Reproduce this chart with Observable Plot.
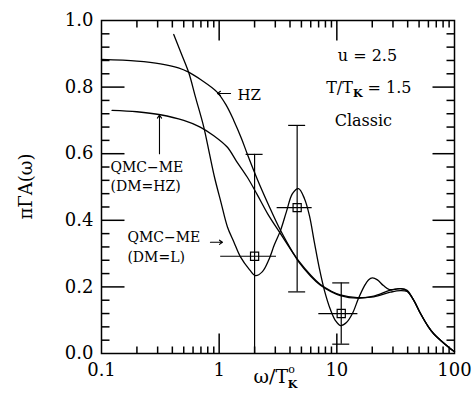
<!DOCTYPE html>
<html>
<head>
<meta charset="utf-8">
<script src="https://cdn.jsdelivr.net/npm/d3@7"></script>
<script src="https://cdn.jsdelivr.net/npm/@observablehq/plot@0.6"></script>
<style>
  html, body { margin: 0; padding: 0; background: #fff; }
</style>
</head>
<body>
<div id="chart"></div>
<script>
// ---- data ----
const hzX = [0.1, 0.2, 0.317, 0.45, 0.55, 0.7, 0.96, 1.15, 1.33, 1.55, 1.73, 2.1, 2.6, 3.32, 4.28, 4.74, 6, 7.26, 9, 10.7, 14.9, 20.6, 28.5, 34.7, 39.5, 45, 51.4, 60, 66.5, 76, 92, 100];
const hzY = [0.883, 0.878, 0.870, 0.858, 0.845, 0.822, 0.785, 0.745, 0.70, 0.645, 0.60, 0.525, 0.45, 0.37, 0.30, 0.275, 0.232, 0.205, 0.185, 0.174, 0.166, 0.172, 0.19, 0.195, 0.188, 0.16, 0.12, 0.08, 0.059, 0.04, 0.015, 0.005];

const dmhzX = [0.123, 0.2, 0.317, 0.5, 0.69, 0.9, 1.17, 1.4, 1.73, 2.1, 2.6, 3.32, 4.28, 4.74, 6, 7.26, 9, 10.7, 14.9, 20.6, 28.5, 34.7, 39.5, 45, 51.4, 60, 66.5, 76, 92, 100];
const dmhzY = [0.730, 0.726, 0.717, 0.70, 0.68, 0.654, 0.62, 0.578, 0.53, 0.478, 0.418, 0.36, 0.30, 0.278, 0.235, 0.207, 0.187, 0.176, 0.168, 0.170, 0.184, 0.189, 0.186, 0.16, 0.12, 0.08, 0.06, 0.04, 0.015, 0.005];

const dmlX = [0.411, 0.48, 0.552, 0.629, 0.740, 0.827, 0.912, 1.036, 1.176, 1.336, 1.517, 1.809, 2.03, 2.333, 2.624, 2.95, 3.318, 3.731, 4.196, 4.72, 5.31, 5.85, 6.45, 7.11, 7.85, 8.82, 9.73, 10.73, 12.07, 13.57, 15.26, 17.16, 18.56, 20.07, 22.13, 24.89, 27.99, 31.5, 35, 39.5, 45, 51.4, 60, 66.5, 76, 92, 100];
const dmlY = [0.958, 0.898, 0.843, 0.77, 0.68, 0.60, 0.53, 0.454, 0.38, 0.334, 0.29, 0.252, 0.234, 0.246, 0.279, 0.327, 0.369, 0.426, 0.48, 0.495, 0.465, 0.414, 0.333, 0.255, 0.189, 0.132, 0.099, 0.084, 0.093, 0.12, 0.165, 0.203, 0.221, 0.227, 0.221, 0.204, 0.192, 0.193, 0.195, 0.19, 0.16, 0.12, 0.08, 0.059, 0.04, 0.015, 0.005];

// QMC points with error bars
const errX = [2.0, 4.6, 10.9];
const errY = [0.292, 0.438, 0.12];
const errYLow = [0, 0.185, 0.028];
const errYHigh = [0.598, 0.685, 0.212];
const errXLow = [1.03, 3.11, 7.03];
const errXHigh = [3.07, 6.17, 15.1];

// tick values
const xLabelTicks = [0.1, 1, 10, 100];
const xMajorTicks = [1, 10];
const xMinorTicks = [0.2, 0.3, 0.4, 0.5, 0.6, 0.7, 0.8, 0.9, 2, 3, 4, 5, 6, 7, 8, 9, 20, 30, 40, 50, 60, 70, 80, 90];
const yLabelTicks = [0, 0.2, 0.4, 0.6, 0.8, 1.0];
const yMajorTicks = [0.2, 0.4, 0.6, 0.8];
const yMinorTicks = [0.04, 0.08, 0.12, 0.16, 0.24, 0.28, 0.32, 0.36, 0.44, 0.48, 0.52, 0.56, 0.64, 0.68, 0.72, 0.76, 0.84, 0.88, 0.92, 0.96];

// ---- build tables ----
const hz = hzX.map((x, i) => ({x, y: hzY[i]}));
const dmhz = dmhzX.map((x, i) => ({x, y: dmhzY[i]}));
const dml = dmlX.map((x, i) => ({x, y: dmlY[i]}));
const errs = errX.map((x, i) => ({x, y: errY[i], yLo: errYLow[i], yHi: errYHigh[i], xLo: errXLow[i], xHi: errXHigh[i]}));

const W = 474, H = 416;
const mL = 101, mR = 20, mT = 20, mB = 63;
const pw = W - mL - mR, ph = H - mT - mB;
const xDom = [0.1, 100], yDom = [0, 1];
const decades = Math.log10(xDom[1] / xDom[0]);
const yLen = px => px / ph * (yDom[1] - yDom[0]);
const xFac = px => Math.pow(10, px / pw * decades);
const capF = xFac(8.5);

// inward tick segments on all four sides (tick value -> segment in scale units)
const xTickSegs = [
  ...xMinorTicks.flatMap(v => [{x1: v, x2: v, y1: yDom[0], y2: yDom[0] + yLen(7)}, {x1: v, x2: v, y1: yDom[1] - yLen(7), y2: yDom[1]}]),
  ...xMajorTicks.flatMap(v => [{x1: v, x2: v, y1: yDom[0], y2: yDom[0] + yLen(20)}, {x1: v, x2: v, y1: yDom[1] - yLen(20), y2: yDom[1]}])
];
const yTickSegs = [
  ...yMinorTicks.flatMap(v => [{y1: v, y2: v, x1: xDom[0], x2: xDom[0] * xFac(8)}, {y1: v, y2: v, x1: xDom[1] / xFac(8), x2: xDom[1]}]),
  ...yMajorTicks.flatMap(v => [{y1: v, y2: v, x1: xDom[0], x2: xDom[0] * xFac(23)}, {y1: v, y2: v, x1: xDom[1] / xFac(22), x2: xDom[1]}])
];
const tickSegs = [...xTickSegs, ...yTickSegs];

const font = "'DejaVu Serif', serif";
const lineOpts = {stroke: "black", strokeWidth: 1.3, curve: "catmull-rom"};

const svg = Plot.plot({
  width: W, height: H,
  marginLeft: mL, marginRight: mR, marginTop: mT, marginBottom: mB,
  style: {fontFamily: font, background: "white", color: "black"},
  x: {type: "log", domain: xDom},
  y: {domain: yDom},
  marks: [
    Plot.frame({stroke: "black", fill: "none", strokeWidth: 1.5}),
    Plot.axisX(xLabelTicks, {anchor: "bottom", tickSize: 0, tickPadding: 10, fontSize: 18, tickFormat: d => String(d), label: null}),
    Plot.axisY(yLabelTicks, {anchor: "left", tickSize: 0, tickPadding: 8, fontSize: 18, tickFormat: d => d.toFixed(1), label: null}),
    // curves
    Plot.line(hz, {x: "x", y: "y", ...lineOpts}),
    Plot.line(dmhz, {x: "x", y: "y", ...lineOpts}),
    Plot.line(dml, {x: "x", y: "y", ...lineOpts}),
    // error bars
    Plot.ruleX(errs, {x: "x", y1: "yLo", y2: "yHi", strokeWidth: 1.2}),
    Plot.ruleY(errs, {y: "y", x1: "xLo", x2: "xHi", strokeWidth: 1.2}),
    Plot.ruleY(errs, {y: "yHi", x1: d => d.x / capF, x2: d => d.x * capF, strokeWidth: 1.2}),
    Plot.ruleY(errs.filter(d => d.yLo > 0), {y: "yLo", x1: d => d.x / capF, x2: d => d.x * capF, strokeWidth: 1.2}),
    Plot.dot(errs, {x: "x", y: "y", symbol: "square", r: 4.6, stroke: "black", fill: "none", strokeWidth: 1.2}),
    // inward ticks
    Plot.link(tickSegs, {x1: "x1", y1: "y1", x2: "x2", y2: "y2", stroke: "black", strokeWidth: 1.5}),
    // arrows
    Plot.arrow([{x1: 1.25, y1: 0.781, x2: 0.967, y2: 0.781}], {x1: "x1", y1: "y1", x2: "x2", y2: "y2", headLength: 5, headAngle: 70, strokeWidth: 1.1}),
    Plot.arrow([{x1: 0.311, y1: 0.60, x2: 0.311, y2: 0.716}], {x1: "x1", y1: "y1", x2: "x2", y2: "y2", headLength: 5, headAngle: 70, strokeWidth: 1.1}),
    Plot.arrow([{x1: 0.843, y1: 0.334, x2: 1.067, y2: 0.334}], {x1: "x1", y1: "y1", x2: "x2", y2: "y2", headLength: 5, headAngle: 70, strokeWidth: 1.1}),
    // annotations
    Plot.text([{x: 1.43, y: 0.775, t: "HZ"}], {x: "x", y: "y", text: "t", textAnchor: "start", fontSize: 15, lineAnchor: "middle"}),
    Plot.text([{x: 0.1193, y: 0.5595, t: "QMC\u2212ME"}], {x: "x", y: "y", text: "t", textAnchor: "start", fontSize: 14, lineAnchor: "middle"}),
    Plot.text([{x: 0.1193, y: 0.502, t: "(DM=HZ)"}], {x: "x", y: "y", text: "t", textAnchor: "start", fontSize: 14, lineAnchor: "middle"}),
    Plot.text([{x: 0.166, y: 0.347, t: "QMC\u2212ME"}], {x: "x", y: "y", text: "t", textAnchor: "start", fontSize: 14, lineAnchor: "middle"}),
    Plot.text([{x: 0.166, y: 0.289, t: "(DM=L)"}], {x: "x", y: "y", text: "t", textAnchor: "start", fontSize: 14, lineAnchor: "middle"}),
    Plot.text([{x: 18.2, y: 0.895, t: "u = 2.5"}], {x: "x", y: "y", text: "t", textAnchor: "middle", fontSize: 16, lineAnchor: "middle"}),
    Plot.text([{x: 16.8, y: 0.70, t: "Classic"}], {x: "x", y: "y", text: "t", textAnchor: "middle", fontSize: 16, lineAnchor: "middle"})
  ]
});

// texts with sub/superscripts, placed through the plot's scales
const sx = svg.scale("x"), sy = svg.scale("y");
const g = d3.select(svg).append("g").attr("font-family", font).attr("fill", "black");

const t1 = g.append("text").attr("x", sx.apply(18.9)).attr("y", sy.apply(0.781))
  .attr("text-anchor", "middle").attr("font-size", 16);
t1.append("tspan").text("T/T");
t1.append("tspan").attr("font-size", 11).attr("font-weight", "bold").attr("dy", 4).text("K");
t1.append("tspan").attr("dy", -4).text(" = 1.5");

// x-axis label
const xl = g.append("text").attr("x", sx.apply(Math.sqrt(10)) - 2).attr("y", H - 33)
  .attr("text-anchor", "middle").attr("font-size", 19);
xl.append("tspan").text("\u03c9/T");
xl.append("tspan").attr("font-size", 11).attr("dy", -10).text("o");
xl.append("tspan").attr("font-size", 11).attr("dx", -7).attr("dy", 15).attr("font-weight", "bold").text("K");

// y-axis label
g.append("text").attr("transform", `translate(27, ${sy.apply(0.5)}) rotate(-90)`)
  .attr("text-anchor", "middle").attr("dominant-baseline", "middle")
  .attr("font-size", 18).text("\u03c0\u0393A(\u03c9)");

document.getElementById("chart").appendChild(svg);
</script>
</body>
</html>
